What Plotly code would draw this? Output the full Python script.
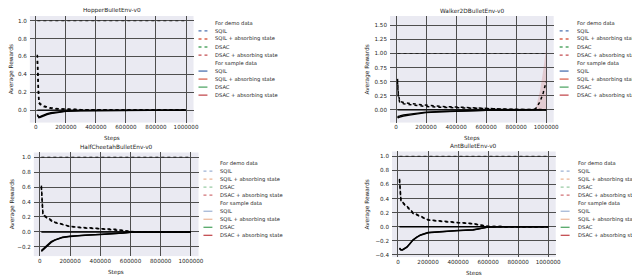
import plotly.graph_objects as go

W, H = 640, 275

# ---------------- data ----------------
env_names = ["HopperBulletEnv-v0", "Walker2DBulletEnv-v0", "HalfCheetahBulletEnv-v0", "AntBulletEnv-v0"]

const_steps = [10000, 1000000]
sqil_demo = [1.0, 1.0]
sqil_sample = [0.0, 0.0]

hopper_steps = [10000, 15000, 20000, 30000, 50000, 75000, 100000, 150000, 200000, 300000, 500000, 700000, 1000000]
hopper_dsac_demo = [0.62, 0.25, 0.09, 0.07, 0.05, 0.035, 0.025, 0.015, 0.01, 0.005, 0.002, 0.001, 0.0]
hopper_dsacabs_demo = [0.55, 0.2, 0.08, 0.06, 0.04, 0.03, 0.02, 0.012, 0.008, 0.004, 0.002, 0.001, 0.0]
hopper_dsac_sample = [-0.05, -0.08, -0.085, -0.08, -0.065, -0.05, -0.04, -0.025, -0.015, -0.008, -0.004, -0.002, 0.0]
hopper_dsacabs_sample = [-0.06, -0.07, -0.075, -0.07, -0.055, -0.04, -0.03, -0.02, -0.012, -0.006, -0.003, -0.001, 0.0]

walker_steps = [10000, 15000, 25000, 50000, 100000, 200000, 300000, 400000, 500000, 600000, 700000, 800000, 900000, 930000, 960000, 980000, 1000000]
walker_dsac_demo = [0.55, 0.3, 0.15, 0.13, 0.11, 0.08, 0.06, 0.05, 0.035, 0.02, 0.015, 0.01, 0.008, 0.006, 0.005, 0.004, 0.003]
walker_dsacabs_demo = [0.5, 0.25, 0.13, 0.11, 0.09, 0.06, 0.045, 0.035, 0.025, 0.015, 0.01, 0.008, 0.005, 0.02, 0.15, 0.3, 0.5]
walker_dsac_sample = [-0.13, -0.14, -0.13, -0.11, -0.09, -0.05, -0.035, -0.025, -0.015, -0.01, -0.008, -0.005, -0.003, -0.002, -0.002, -0.001, 0.0]
walker_dsacabs_sample = [-0.12, -0.12, -0.11, -0.09, -0.07, -0.04, -0.03, -0.02, -0.012, -0.008, -0.006, -0.004, -0.002, -0.002, -0.001, -0.001, 0.0]
walker_band_steps = [930000, 960000, 980000, 1000000]
walker_band_upper = [0.02, 0.35, 0.7, 1.1]
walker_band_lower = [0.0, 0.0, 0.0, 0.0]

cheetah_steps = [10000, 15000, 20000, 30000, 50000, 75000, 100000, 150000, 200000, 250000, 300000, 400000, 500000, 550000, 600000, 700000, 800000, 1000000]
cheetah_dsac_demo = [0.62, 0.4, 0.25, 0.22, 0.19, 0.16, 0.13, 0.1, 0.075, 0.065, 0.055, 0.045, 0.035, 0.02, 0.005, 0.002, 0.001, 0.0]
cheetah_dsacabs_demo = [0.6, 0.38, 0.24, 0.21, 0.18, 0.15, 0.125, 0.095, 0.072, 0.062, 0.052, 0.042, 0.032, 0.018, 0.004, 0.002, 0.001, 0.0]
cheetah_dsac_sample = [-0.26, -0.25, -0.24, -0.22, -0.18, -0.14, -0.11, -0.075, -0.06, -0.05, -0.045, -0.035, -0.028, -0.015, -0.005, -0.002, -0.001, 0.0]
cheetah_dsacabs_sample = [-0.25, -0.24, -0.23, -0.21, -0.17, -0.13, -0.105, -0.07, -0.056, -0.047, -0.042, -0.033, -0.026, -0.014, -0.005, -0.002, -0.001, 0.0]

ant_steps = [10000, 15000, 20000, 30000, 40000, 60000, 80000, 100000, 125000, 150000, 200000, 300000, 400000, 500000, 550000, 600000, 700000, 1000000]
ant_dsac_demo = [0.68, 0.5, 0.37, 0.35, 0.33, 0.3, 0.25, 0.2, 0.17, 0.15, 0.1, 0.075, 0.06, 0.045, 0.025, 0.005, 0.002, 0.0]
ant_dsacabs_demo = [0.66, 0.48, 0.36, 0.34, 0.32, 0.29, 0.24, 0.19, 0.165, 0.145, 0.097, 0.072, 0.058, 0.043, 0.023, 0.005, 0.002, 0.0]
ant_dsac_sample = [-0.31, -0.33, -0.33, -0.33, -0.32, -0.29, -0.24, -0.19, -0.15, -0.12, -0.085, -0.065, -0.055, -0.045, -0.025, -0.005, -0.002, 0.0]
ant_dsacabs_sample = [-0.3, -0.32, -0.325, -0.325, -0.315, -0.285, -0.235, -0.185, -0.145, -0.115, -0.082, -0.063, -0.053, -0.043, -0.024, -0.005, -0.002, 0.0]

x_tickvals = [0, 200000, 400000, 600000, 800000, 1000000]
x_ticktext = ["0", "200000", "400000", "600000", "800000", "1000000"]

legend_labels = ["For demo data", "SQIL", "SQIL + absorbing state", "DSAC", "DSAC + absorbing state",
                 "For sample data", "SQIL", "SQIL + absorbing state", "DSAC", "DSAC + absorbing state"]
legend_dash = [None, "dot", "dot", "dot", "dot", None, "solid", "solid", "solid", "solid"]
legend_colors_top = [None, "#4C72B0", "#D9634F", "#55A868", "#C44E52", None, "#4C72B0", "#D9634F", "#55A868", "#C44E52"]
legend_colors_bot = [None, "rgba(76,114,176,0.55)", "rgba(221,132,82,0.6)", "rgba(85,168,104,0.6)", "rgba(196,78,82,0.8)",
                     None, "rgba(76,114,176,0.5)", "rgba(221,132,82,0.55)", "#55A868", "#C44E52"]

env_data = [
    (hopper_steps, hopper_dsac_demo, hopper_dsacabs_demo, hopper_dsac_sample, hopper_dsacabs_sample),
    (walker_steps, walker_dsac_demo, walker_dsacabs_demo, walker_dsac_sample, walker_dsacabs_sample),
    (cheetah_steps, cheetah_dsac_demo, cheetah_dsacabs_demo, cheetah_dsac_sample, cheetah_dsacabs_sample),
    (ant_steps, ant_dsac_demo, ant_dsacabs_demo, ant_dsac_sample, ant_dsacabs_sample),
]

# ---------------- layout geometry (pixels) ----------------
panels = [
    dict(x0=22, x1=187, y0=8, y1=115, yr=[-0.14, 1.054], dtick=0.2, fmt=".1f", lx=192, ly=15, ytx=3, legc=legend_colors_top),
    dict(x0=385, x1=550, y0=8, y1=115, yr=[-0.226, 1.666], dtick=0.25, fmt=".2f", lx=556, ly=15, ytx=362, legc=legend_colors_top),
    dict(x0=26, x1=192, y0=145, y1=249, yr=[-0.323, 1.063], dtick=0.2, fmt=".1f", lx=197, ly=155.7, ytx=4, legc=legend_colors_bot),
    dict(x0=387, x1=552, y0=144, y1=250, yr=[-0.43, 1.068], dtick=0.2, fmt=".1f", lx=557, ly=155.7, ytx=362, legc=legend_colors_bot),
]

FONT = "DejaVu Sans"
TXT = "#262626"
GRID = "#4e4e4e"

def px(x):
    return x / W

def py(y):
    return 1 - y / H

fig = go.Figure()
annotations = []
shapes = []

for i, (p, name, d) in enumerate(zip(panels, env_names, env_data)):
    n = "" if i == 0 else str(i + 1)
    xa, ya = "x" + n, "y" + n
    steps, dsac_demo, dsacabs_demo, dsac_sample, dsacabs_sample = d

    if i == 1:
        fig.add_trace(go.Scatter(x=walker_band_steps, y=walker_band_lower, mode="lines", line=dict(width=0),
                                 showlegend=False, hoverinfo="skip", xaxis=xa, yaxis=ya))
        fig.add_trace(go.Scatter(x=walker_band_steps, y=walker_band_upper, mode="lines", line=dict(width=0),
                                 fill="tonexty", fillcolor="rgba(196,78,82,0.2)",
                                 showlegend=False, hoverinfo="skip", xaxis=xa, yaxis=ya))

    fig.add_trace(go.Scatter(x=const_steps, y=sqil_demo, mode="lines", line=dict(color="#222", width=1, dash="dot"),
                             showlegend=False, xaxis=xa, yaxis=ya))
    for ys in (dsac_demo, dsacabs_demo):
        fig.add_trace(go.Scatter(x=steps, y=ys, mode="lines", line=dict(color="black", width=1.5, dash="dot"),
                                 showlegend=False, xaxis=xa, yaxis=ya))
    fig.add_trace(go.Scatter(x=const_steps, y=sqil_sample, mode="lines", line=dict(color="black", width=1.4),
                             showlegend=False, xaxis=xa, yaxis=ya))
    for ys in (dsac_sample, dsacabs_sample):
        fig.add_trace(go.Scatter(x=steps, y=ys, mode="lines", line=dict(color="black", width=1.4),
                                 showlegend=False, xaxis=xa, yaxis=ya))

    axis_common = dict(showgrid=True, gridcolor=GRID, gridwidth=1.2, zeroline=False, showline=False,
                       ticks="", ticklen=0, tickfont=dict(family=FONT, size=5.6, color=TXT))
    fig.update_layout(**{
        ("xaxis" + n): dict(domain=[px(p["x0"]), px(p["x1"])], range=[-40000, 1050000],
                            tickvals=x_tickvals, ticktext=x_ticktext, anchor=ya, ticklabelstandoff=0, **axis_common),
        ("yaxis" + n): dict(domain=[py(p["y1"]), py(p["y0"])], range=p["yr"], dtick=p["dtick"], tick0=0,
                            tickformat=p["fmt"], anchor=xa, ticklabelstandoff=2, **axis_common),
    })

    cx = (p["x0"] + p["x1"]) / 2
    annotations.append(dict(text=name, x=px(cx), y=py(p["y0"] - 5), xref="paper", yref="paper",
                            showarrow=False, font=dict(family=FONT, size=5.8, color=TXT), xanchor="center", yanchor="middle"))
    annotations.append(dict(text="Steps", x=px(cx), y=py(p["y1"] + 16), xref="paper", yref="paper",
                            showarrow=False, font=dict(family=FONT, size=5.6, color=TXT), xanchor="center", yanchor="middle"))
    annotations.append(dict(text="Average Rewards", x=px(p["ytx"]), y=py((p["y0"] + p["y1"]) / 2), xref="paper", yref="paper",
                            showarrow=False, textangle=-90, font=dict(family=FONT, size=5.8, color=TXT),
                            xanchor="center", yanchor="middle"))

    # legend
    for k, (lab, dash, col) in enumerate(zip(legend_labels, legend_dash, p["legc"])):
        yy = p["ly"] + k * 8.05
        annotations.append(dict(text=lab, x=px(p["lx"] + 15), y=py(yy), xref="paper", yref="paper",
                                showarrow=False, font=dict(family=FONT, size=5.2, color=TXT),
                                xanchor="left", yanchor="middle"))
        if dash is not None:
            shapes.append(dict(type="line", xref="paper", yref="paper",
                               x0=px(p["lx"]), x1=px(p["lx"] + 9), y0=py(yy), y1=py(yy),
                               line=dict(color=col, width=1.3, dash=dash)))

fig.update_layout(width=W, height=H, margin=dict(l=0, r=0, t=0, b=0),
                  paper_bgcolor="white", plot_bgcolor="#EAEAF2",
                  showlegend=False, annotations=annotations, shapes=shapes,
                  font=dict(family=FONT, color=TXT))

fig.write_html("out.html")
